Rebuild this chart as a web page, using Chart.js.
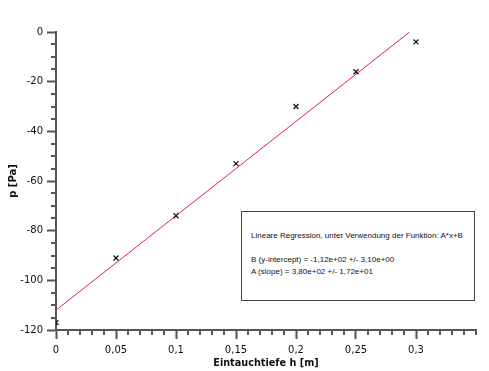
<!DOCTYPE html>
<html><head><meta charset="utf-8">
<script src="https://cdn.jsdelivr.net/npm/chart.js@4/dist/chart.umd.min.js"></script>
<style>
html,body{margin:0;padding:0;background:#fff;}
#wrap{position:relative;width:489px;height:371px;}
#box{position:absolute;left:241px;top:211px;width:232px;height:88px;border:1px solid #444;background:#fff;
 font-family:"Liberation Sans",Arial,sans-serif;font-size:8px;color:#111;line-height:11px;}
#box div{position:absolute;left:9px;white-space:nowrap;}
</style></head>
<body><div id="wrap"><canvas id="c" width="489" height="371"></canvas>
<div id="box"><div style="top:18px">Lineare Regression, unter Verwendung der Funktion: A*x+B</div>
<div style="top:42px">B (y-intercept) = -1,12e+02 +/- 3,10e+00</div>
<div style="top:54px">A (slope) = 3,80e+02 +/- 1,72e+01</div></div></div>
<script>
const depthH = [0, 0.05, 0.1, 0.15, 0.2, 0.25, 0.3];
const pressureP = [-117, -91, -74, -53, -30, -16, -4];
const fitX = [0, 0.2947];
const fitY = [-112, 0];
const xTicksMajor = [0, 0.05, 0.1, 0.15, 0.2, 0.25, 0.3];
const yTicksMajor = [0, -20, -40, -60, -80, -100, -120];

const fmtX = v => { const r = Math.round(v*100)/100; return r > 0.34 ? '' : String(r).replace('.', ','); };
const axisCol = '#555';
const minorTicks = {
  id: 'minorTicks',
  afterDraw(chart) {
    const ctx = chart.ctx, xs = chart.scales.x, ys = chart.scales.y;
    ctx.save(); ctx.strokeStyle = axisCol; ctx.lineWidth = 2;
    const yb = ys.getPixelForValue(-120);
    for (let i = 0; i <= 35; i++) {
      if (i % 5 === 0 && i < 35) continue;
      const px = Math.round(xs.getPixelForValue(i/100));
      ctx.beginPath(); ctx.moveTo(px, yb); ctx.lineTo(px, yb + 5); ctx.stroke();
    }
    const xl = xs.getPixelForValue(0);
    for (let v = 0; v >= -120; v -= 5) {
      if (v % 20 === 0) continue;
      const py = Math.round(ys.getPixelForValue(v));
      ctx.beginPath(); ctx.moveTo(xl - 5, py); ctx.lineTo(xl, py); ctx.stroke();
    }
    ctx.restore();
  }
};

new Chart(document.getElementById('c'), {
  type: 'scatter',
  data: {
    datasets: [
      { data: depthH.map((x,i)=>({x, y: pressureP[i]})), pointStyle: 'crossRot', pointRadius: 3.5,
        borderColor: '#111', backgroundColor: '#111', borderWidth: 1.2, showLine: false },
      { data: fitX.map((x,i)=>({x, y: fitY[i]})), showLine: true, pointRadius: 0,
        borderColor: '#e2233d', borderWidth: 1, fill: false }
    ]
  },
  options: {
    responsive: false, animation: false,
    layout: { padding: { left: 0, top: 32, right: 13, bottom: 0 } },
    plugins: { legend: { display: false }, tooltip: { enabled: false } },
    scales: {
      x: {
        type: 'linear', min: 0, max: 0.35,
        afterFit: s => { s.height = 41; },
        ticks: { stepSize: 0.05, callback: fmtX, color: '#111', padding: 5, maxRotation: 0,
          font: { family: 'DejaVu Sans', size: 10 } },
        grid: { drawOnChartArea: false, tickLength: 9, tickWidth: 2,
          tickColor: c => (c.tick && c.tick.value > 0.34) ? 'rgba(0,0,0,0)' : axisCol },
        border: { color: axisCol, width: 2 },
        title: { display: true, text: 'Eintauchtiefe h [m]', color: '#111', padding: { top: 0, bottom: 2 },
          font: { family: 'DejaVu Sans', size: 9.7, weight: 'bold' } }
      },
      y: {
        min: -120, max: 0,
        afterFit: s => { s.width = 56; },
        ticks: { stepSize: 20, callback: v => String(v), color: '#111', padding: 4,
          font: { family: 'DejaVu Sans', size: 10 } },
        grid: { drawOnChartArea: false, tickLength: 9, tickWidth: 2, tickColor: axisCol },
        border: { color: axisCol, width: 2 },
        title: { display: true, text: 'p [Pa]', color: '#111', padding: { top: 7, bottom: 0 },
          font: { family: 'DejaVu Sans', size: 10, weight: 'bold' } }
      }
    }
  },
  plugins: [minorTicks]
});
</script></body></html>
